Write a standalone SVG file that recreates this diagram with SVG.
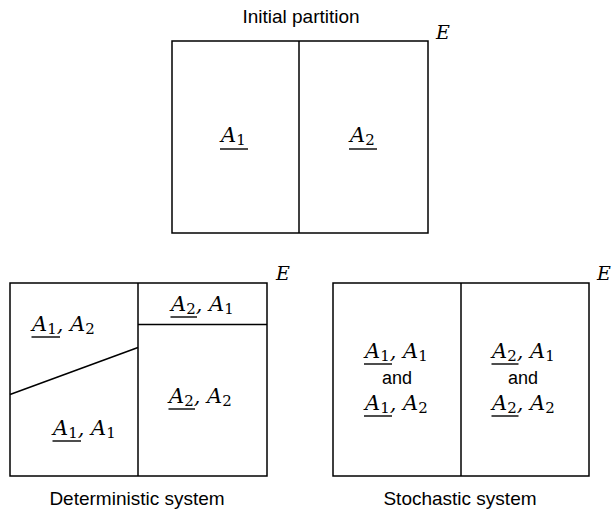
<svg xmlns="http://www.w3.org/2000/svg" width="612" height="510" viewBox="0 0 612 510">
<style>
.box{fill:none;stroke:#000;stroke-width:1.5}
.ln{stroke:#000;stroke-width:1.5;fill:none}
.ul{stroke:#000;stroke-width:1.4}
.cap{font-family:"Liberation Sans",Arial,sans-serif;font-size:19px;fill:#000}
.and{font-family:"Liberation Sans",Arial,sans-serif;font-size:18px;fill:#000;text-anchor:middle}
.m{font-family:"DejaVu Serif","Liberation Serif",serif;font-style:italic;font-size:21px;fill:#000}
.s{font-style:normal;font-size:15px}
.E{font-family:"DejaVu Serif","Liberation Serif",serif;font-style:italic;font-size:19px;fill:#000}
</style>
<rect width="612" height="510" fill="#fff"/>

<g id="initial">
<text class="cap" x="301" y="23" text-anchor="middle">Initial partition</text>
<rect class="box" x="172" y="41" width="256" height="192"/>
<line class="ln" x1="299" y1="41" x2="299" y2="233"/>
<text class="E" x="436" y="39">E</text>
<g id="i-a1"><text class="m" x="221" y="142">A<tspan class="s" dy="3">1</tspan></text><line class="ul" x1="220" y1="149" x2="248" y2="149"/></g>
<g id="i-a2"><text class="m" x="350" y="142">A<tspan class="s" dy="3">2</tspan></text><line class="ul" x1="349" y1="149" x2="377" y2="149"/></g>
</g>

<g id="deterministic">
<rect class="box" x="10" y="283" width="257" height="193"/>
<line class="ln" x1="138" y1="283" x2="138" y2="476"/>
<line class="ln" x1="138" y1="324.5" x2="267" y2="324.5"/>
<line class="ln" x1="10" y1="394.5" x2="138" y2="347.5"/>
<text class="E" x="276" y="280">E</text>
<g id="d-a1a2"><text class="m" x="32" y="331">A<tspan class="s" dy="3">1</tspan><tspan dy="-3">, A</tspan><tspan class="s" dy="3">2</tspan></text><line class="ul" x1="31.5" y1="337" x2="60" y2="337"/></g>
<g id="d-a2a1"><text class="m" x="171" y="311">A<tspan class="s" dy="3">2</tspan><tspan dy="-3">, A</tspan><tspan class="s" dy="3">1</tspan></text><line class="ul" x1="170.5" y1="317" x2="197" y2="317"/></g>
<g id="d-a2a2"><text class="m" x="169" y="403">A<tspan class="s" dy="3">2</tspan><tspan dy="-3">, A</tspan><tspan class="s" dy="3">2</tspan></text><line class="ul" x1="168.5" y1="409" x2="195" y2="409"/></g>
<g id="d-a1a1"><text class="m" x="53" y="435">A<tspan class="s" dy="3">1</tspan><tspan dy="-3">, A</tspan><tspan class="s" dy="3">1</tspan></text><line class="ul" x1="52.5" y1="441" x2="81" y2="441"/></g>
<text class="cap" x="137" y="505" text-anchor="middle">Deterministic system</text>
</g>

<g id="stochastic">
<rect class="box" x="333" y="283" width="256" height="193"/>
<line class="ln" x1="461" y1="283" x2="461" y2="476"/>
<text class="E" x="597" y="280">E</text>
<g id="s-left">
<text class="m" x="365" y="358">A<tspan class="s" dy="3">1</tspan><tspan dy="-3">, A</tspan><tspan class="s" dy="3">1</tspan></text><line class="ul" x1="364" y1="364" x2="392" y2="364"/>
<text class="and" x="397" y="384">and</text>
<text class="m" x="365" y="410">A<tspan class="s" dy="3">1</tspan><tspan dy="-3">, A</tspan><tspan class="s" dy="3">2</tspan></text><line class="ul" x1="364" y1="416" x2="392" y2="416"/>
</g>
<g id="s-right">
<text class="m" x="492" y="358">A<tspan class="s" dy="3">2</tspan><tspan dy="-3">, A</tspan><tspan class="s" dy="3">1</tspan></text><line class="ul" x1="491.5" y1="364" x2="518.5" y2="364"/>
<text class="and" x="523" y="384">and</text>
<text class="m" x="492" y="410">A<tspan class="s" dy="3">2</tspan><tspan dy="-3">, A</tspan><tspan class="s" dy="3">2</tspan></text><line class="ul" x1="491.5" y1="416" x2="518.5" y2="416"/>
</g>
<text class="cap" x="460" y="505" text-anchor="middle">Stochastic system</text>
</g>
</svg>
